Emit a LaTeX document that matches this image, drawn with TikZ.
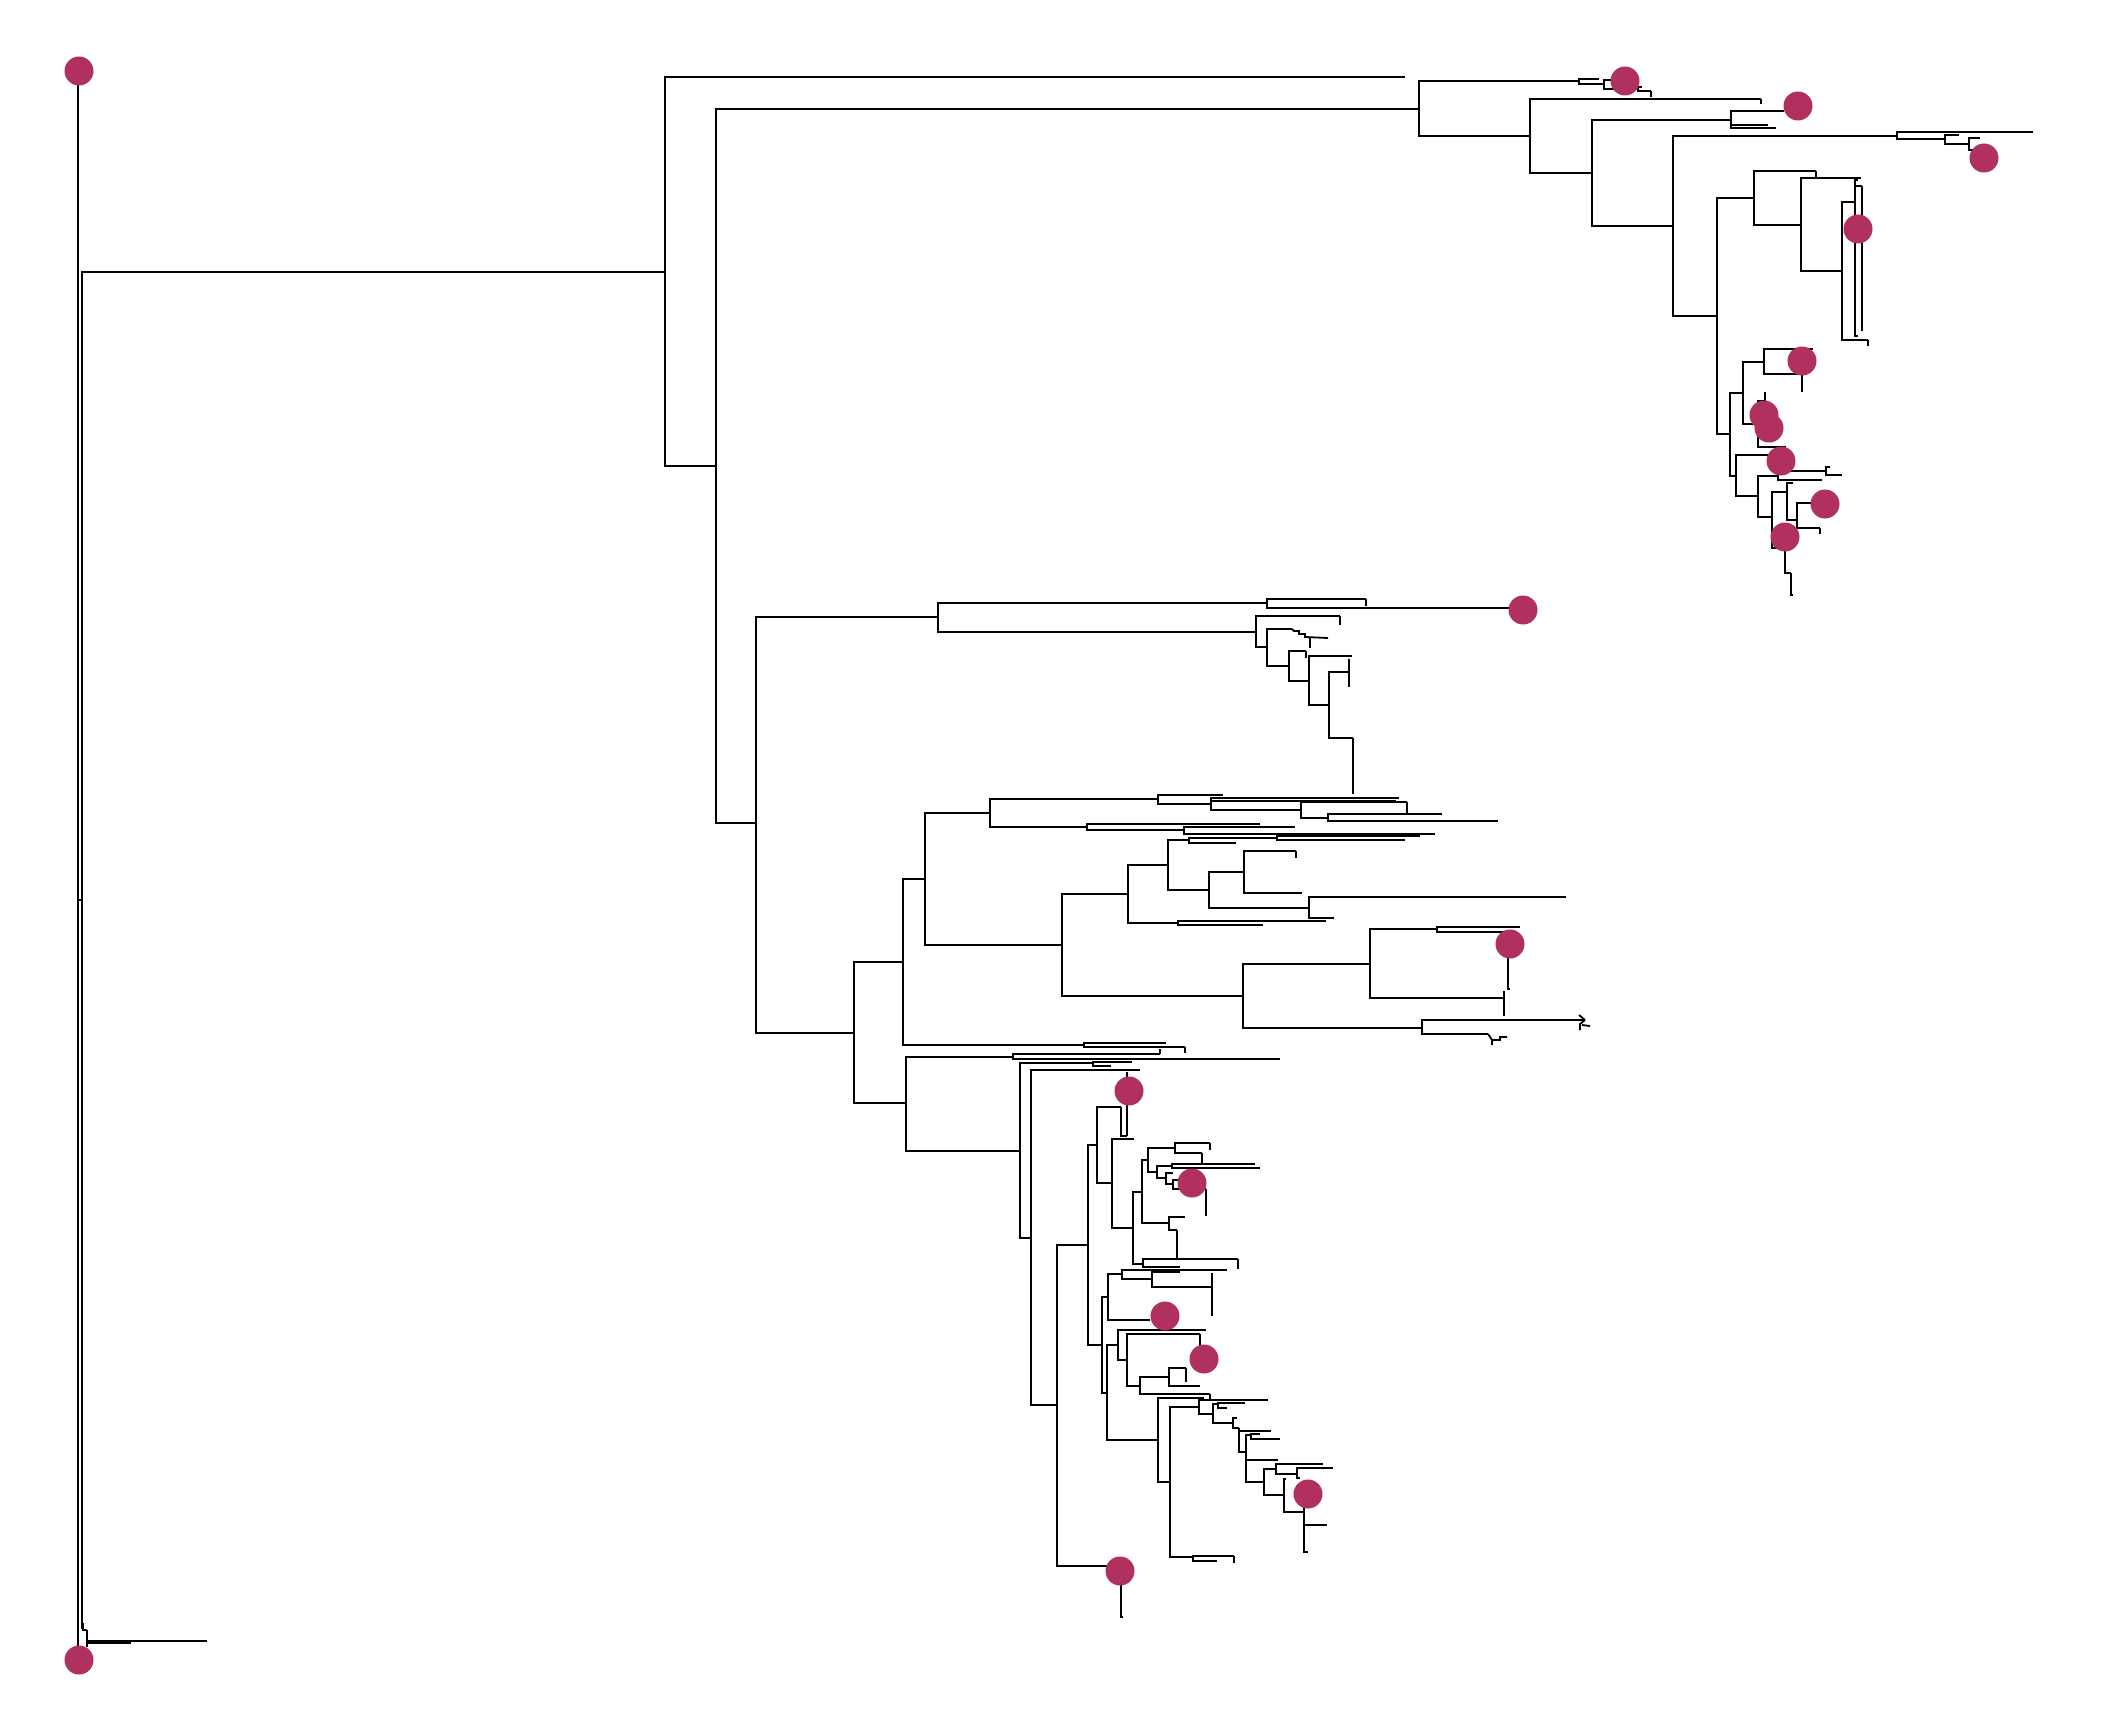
\documentclass[tikz,border=0pt]{standalone}
\definecolor{dotc}{RGB}{176,48,96}
\begin{document}
\begin{tikzpicture}[x=1pt,y=-1pt,
  branch/.style={draw=black,line width=1.8pt},
  tipdot/.style={circle,fill=dotc,draw=none,minimum size=29pt,inner sep=0pt}]
\useasboundingbox (0,0) rectangle (2112,1728);
\fill[white] (0,0) rectangle (2112,1728);

% ---- tree nodes (x = branch depth, y = attachment height)
\foreach \n/\x/\y in {
 r0/78/900, tt0/78/71, tb0/78/1648, i0/82/900, a/665/272, s1/83/1628, s1a/84/1624,
 s2/87/1630, s2a/207/1641, s2b/131/1643, s2c/88/1646,
 ta/1405/77, b/716/466, c/1419/109, d/756/823,
 c1/1579/81, e/1530/136, c1a/1599/79, c2/1604/84, c2a/1622/80, c3/1638/89,
 c3a/1642/87, c3b/1651/91, c3c/1651/97,
 e1/1761/99, e1t/1762/103, f/1592/173, g/1731/120, h/1673/226, g1/1784/111,
 g2/1776/128, g3/1768/125,
 i/1897/136, j/1717/316, i1/2033/132, i2/1945/139, i2a/1959/135, i3/1969/144,
 i3a/1980/138, i3b/1975/150,
 k/1754/198, n/1730/434, k1/1816/171, k1t/1817/178, l/1801/225, l1/1861/178,
 m/1842/271, m1/1855/202, m2/1868/340, m2t/1869/345, m1a/1858/180, m1b/1858/336,
 m1c/1862/186, m1d/1863/330,
 o/1743/393, rr/1736/476, p/1764/362, q/1758/424, p1/1813/349, p2/1802/374,
 p2a/1803/391, q1/1765/401, q1t/1766/393, q2/1786/447,
 r1/1787/455, s/1758/496, t/1778/476, u/1772/517, ta1/1826/471, ta2/1822/480,
 ta3/1830/467, ta4/1842/475,
 v/1787/492, u2/1785/548, v1/1793/483, v2/1797/520, v2a/1822/503, v2b/1820/528,
 v2c/1821/533, u3/1791/573, u4/1793/595,
 w0/938/617, aa/854/1033, w1/1267/603, w/1256/632, w1a/1366/599, w1t/1367/605,
 w1b/1510/608, wa/1340/616, wat/1341/624, x/1267/647, xa/1292/629, y/1289/666,
 ya/1306/651, yat/1307/657, z/1309/681, za/1352/656, z2/1329/705, z2a/1349/672,
 z2c/1350/660, z2d/1350/686, z2b/1353/738, z2e/1354/793,
 bb/903/962, ll/906/1103, cc/925/879, bb2/1084/1045, dd/990/813, ee/1062/945,
 dd1/1158/799, dd2/1087/827, dd1a/1223/795, dd3/1211/804, dd3a/1399/798,
 dd3b/1396/801, dd4/1301/810, dd4a/1407/802, dd4t/1408/812, dd5/1328/818,
 dd5a/1442/814, dd5b/1498/821, dd2a/1260/824, dd6/1184/830, dd6a/1295/827,
 dd6b/1435/834,
 ff/1128/894, ii/1243/996, gg/1168/865, ff2/1178/923, gg1/1189/840, hh/1209/890,
 gg3/1277/838, gg1b/1236/843, gg3a/1420/836, gg3b/1405/840, hh1/1244/872,
 hh2/1309/908, hh1a/1296/851, hh1t/1297/857, hh1b/1302/893, hh2a/1566/897,
 hh2b/1334/918, ff2a/1326/921, ff2b/1263/925,
 jj/1370/964, kk/1422/1028, jj1/1437/929, jj2/1504/998, jj2u/1505/992,
 jj2d/1505/1015, jj1a/1520/927, jj1b/1508/932, jj1c/1510/989, kk1/1585/1020,
 kk2/1488/1034, bb2a/1166/1043, bb2b/1185/1047, bb2t/1186/1052,
 ll1/1013/1057, mm/1020/1151, ll1a/1160/1054, ll1t/1161/1050, ll1b/1280/1059,
 mm1/1093/1063, nn/1031/1238, mm1a/1132/1062, mm1b/1111/1066, nn1/1140/1070,
 oo/1057/1405, pp/1088/1245, oo1/1121/1566, oo2/1123/1617,
 qq/1097/1145, uu/1102/1345, qq1/1121/1107, qq2/1127/1136, qq3/1127/1072,
 rs/1112/1183, rsa/1134/1139, ss/1133/1228, tt/1142/1192, ss2/1143/1264,
 tt1/1148/1160, tt2/1169/1223, tt3/1175/1148, tt4/1157/1172, tt3a/1210/1143,
 tt3t/1211/1149, tt5/1202/1153, tt5a/1203/1163, tt6/1172/1166, tt7/1166/1178,
 tt6a/1255/1164, tt6b/1260/1168, tt7a/1173/1173, tt8/1173/1184, tt8a/1190/1180,
 tt8b/1206/1189, tt8c/1207/1215, tt2a/1185/1217, tt9/1177/1230, tt9a/1178/1257,
 ss2a/1238/1259, ss2t/1239/1268, ss2b/1180/1267,
 vv/1108/1297, ww/1107/1393, vv1/1122/1274, vv4/1150/1320, vv1a/1227/1270,
 vv2/1152/1279, vv2a/1180/1272, vv3/1212/1287, vv3a/1213/1274, vv3b/1213/1315,
 xx/1118/1345, zz/1158/1440, xxa/1206/1330, yy/1127/1360, yya/1200/1334,
 yyat/1201/1347, yy1/1140/1386, yy2/1169/1377, yy1b/1210/1394, yy1t/1211/1399,
 yy2a/1186/1368, yy2t/1187/1381, yy2b/1200/1386,
 zza/1204/1398, aaa/1170/1482, ab/1199/1407, ac/1193/1557, aba/1268/1400,
 ad/1213/1414, ae/1218/1404, af/1233/1423, aea/1245/1403, aeb/1227/1408,
 afa/1237/1418, ag/1239/1428, ah/1271/1431, ai/1246/1452, aj/1251/1435,
 ak/1264/1482, aja/1260/1434, ajb/1280/1439, ail/1278/1460, am/1276/1469,
 an/1284/1495, ama/1323/1464, ao/1297/1474, aoa/1333/1468, aob/1300/1478,
 ana/1286/1479, ap/1304/1512, apa/1306/1497, apb/1327/1525, apc/1308/1552,
 aca/1234/1556, act/1235/1562, acb/1217/1561}
  \coordinate (\n) at (\x,\y);

% ---- branches: parent |- child
\foreach \p/\c in {
 r0/tt0, r0/tb0, r0/i0, i0/a, i0/s1, s1/s1a, s1/s2, s2/s2a, s2/s2b, s2/s2c,
 a/ta, a/b, b/c, b/d, c/c1, c/e, c1/c1a, c1/c2, c2/c2a, c2/c3, c3/c3a, c3/c3b, c3b/c3c,
 e/e1, e1/e1t, e/f, f/g, f/h, g/g1, g/g2, g/g3, h/i, h/j, i/i1, i/i2, i2/i2a, i2/i3,
 i3/i3a, i3/i3b,
 j/k, j/n, k/k1, k1/k1t, k/l, l/l1, l/m, m/m1, m/m2, m2/m2t, m1/m1a, m1/m1b,
 m1/m1c, m1c/m1d,
 n/o, n/rr, o/p, o/q, p/p1, p/p2, p2/p2a, q/q1, q1/q1t, q/q2,
 rr/r1, rr/s, s/t, s/u, t/ta1, t/ta2, ta1/ta3, ta1/ta4, u/v, u/u2, v/v1, v/v2,
 v2/v2a, v2/v2b, v2b/v2c, u2/u3, u3/u4,
 d/w0, d/aa, w0/w1, w0/w, w1/w1a, w1a/w1t, w1/w1b, w/wa, wa/wat, w/x, x/xa, x/y,
 y/ya, ya/yat, y/z, z/za, z/z2, z2/z2a, z2a/z2c, z2a/z2d, z2/z2b, z2b/z2e,
 aa/bb, aa/ll, bb/cc, bb/bb2, cc/dd, cc/ee, dd/dd1, dd/dd2, dd1/dd1a, dd1/dd3,
 dd3/dd3a, dd3/dd3b, dd3/dd4, dd4/dd4a, dd4a/dd4t, dd4/dd5, dd5/dd5a, dd5/dd5b,
 dd2/dd2a, dd2/dd6, dd6/dd6a, dd6/dd6b,
 ee/ff, ee/ii, ff/gg, ff/ff2, gg/gg1, gg/hh, gg1/gg3, gg1/gg1b, gg3/gg3a, gg3/gg3b,
 hh/hh1, hh/hh2, hh1/hh1a, hh1a/hh1t, hh1/hh1b, hh2/hh2a, hh2/hh2b, ff2/ff2a, ff2/ff2b,
 ii/jj, ii/kk, jj/jj1, jj/jj2, jj2/jj2u, jj2/jj2d, jj1/jj1a, jj1/jj1b, jj1b/jj1c,
 kk/kk1, kk/kk2, bb2/bb2a, bb2/bb2b, bb2b/bb2t,
 ll/ll1, ll/mm, ll1/ll1a, ll1a/ll1t, ll1/ll1b, mm/mm1, mm/nn, mm1/mm1a, mm1/mm1b,
 nn/nn1, nn/oo, oo/pp, oo/oo1, oo1/oo2,
 pp/qq, pp/uu, qq/qq1, qq/rs, qq1/qq2, qq2/qq3, rs/rsa, rs/ss, ss/tt, ss/ss2,
 tt/tt1, tt/tt2, tt1/tt3, tt1/tt4, tt3/tt3a, tt3a/tt3t, tt3/tt5, tt5/tt5a, tt4/tt6,
 tt4/tt7, tt6/tt6a, tt6/tt6b, tt7/tt7a, tt7/tt8, tt8/tt8a, tt8/tt8b, tt8b/tt8c,
 tt2/tt2a, tt2/tt9, tt9/tt9a, ss2/ss2a, ss2a/ss2t, ss2/ss2b,
 uu/vv, uu/ww, vv/vv1, vv/vv4, vv1/vv1a, vv1/vv2, vv2/vv2a, vv2/vv3, vv3/vv3a, vv3/vv3b,
 ww/xx, ww/zz, xx/xxa, xx/yy, yy/yya, yya/yyat, yy/yy1, yy1/yy2, yy1/yy1b, yy1b/yy1t,
 yy2/yy2a, yy2a/yy2t, yy2/yy2b,
 zz/zza, zz/aaa, aaa/ab, aaa/ac, ab/aba, ab/ad, ad/ae, ad/af, ae/aea, ae/aeb,
 af/afa, af/ag, ag/ah, ag/ai, ai/aj, ai/ak, ai/ail, aj/aja, aj/ajb, ak/am, ak/an,
 am/ama, am/ao, ao/aoa, ao/aob, an/ana, an/ap, ap/apa, ap/apb, ap/apc, ac/aca,
 aca/act, ac/acb}
  \draw[branch] (\p) |- (\c);

% ---- short stepped tips
\draw[branch] (xa) -- ++(2,2) -- ++(5,0) -- ++(0,3) -- ++(6,0) -- ++(0,3) -- ++(23,1);
\draw[branch] ([shift={(18,8)}]xa) -- ++(0,11);
\draw[branch] (kk1) -- ++(-6,-5);
\draw[branch] (kk1) -- ++(-5,4) -- ++(0,6);
\draw[branch] (kk1) ++(-3,5) -- ++(8,1);
\draw[branch] (kk2) -- ++(4,6) -- ++(8,0) -- ++(0,-3) -- ++(7,0);
\draw[branch] (kk2) ++(4,6) -- ++(0,5);

% ---- marked tips
\foreach \n/\x/\y in {
 dA/79/71, dB/79/1660, dC/1625/81, dD/1798/106, dE/1984/158, dF/1858/229,
 dG/1802/361, dH/1764/415, dI/1769/428, dJ/1781/461, dK/1825/504, dL/1785/537,
 dM/1523/610, dN/1510/944, dO/1129/1091, dP/1192/1183, dQ/1165/1316,
 dR/1204/1359, dS/1308/1494, dT/1120/1571}
  \node[tipdot] (\n) at (\x,\y) {};
\end{tikzpicture}
\end{document}
